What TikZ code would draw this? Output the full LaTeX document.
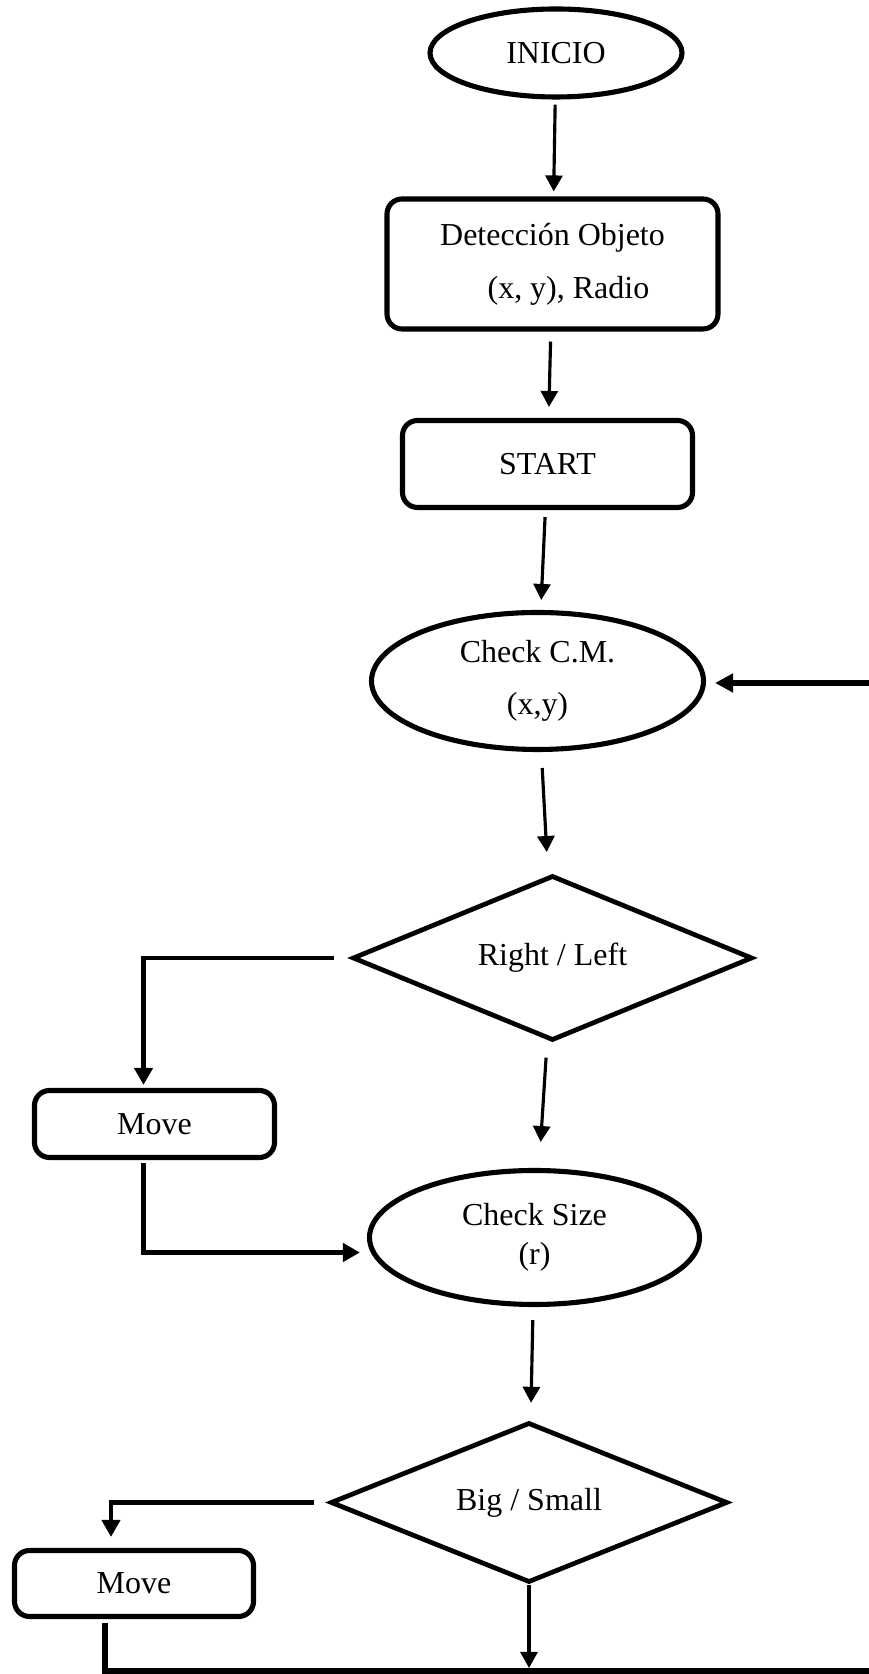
\documentclass[tikz,border=0pt]{standalone}
\usepackage{fontspec}
\setmainfont{Liberation Serif}
\usetikzlibrary{arrows.meta, shapes.geometric}

\tikzset{
  startstop/.style={ellipse, draw, line width=2.9pt, inner sep=0pt},
  proc/.style={rectangle, rounded corners=0.3cm, draw, line width=2.9pt, inner sep=0pt},
  decision/.style={diamond, aspect=2.4, draw, line width=2.7pt, inner sep=0pt},
  arrowline/.style={-{Triangle[length=0.32cm, width=0.34cm]}, line width=1.8pt},
  branchline/.style={-{Triangle[length=0.34cm, width=0.36cm]}, line width=2.8pt},
  backline/.style={-{Triangle[length=0.36cm, width=0.36cm]}, line width=3.2pt}
}

\begin{document}
\begin{tikzpicture}[font=\fontsize{18.2}{22}\selectfont]
  \useasboundingbox (0,0) rectangle (17.38,33.48);
  \clip (0,0) rectangle (17.38,33.48);

  % blocks
  \node[startstop, minimum width=5.04cm, minimum height=1.76cm] (inicio) at (11.12,32.42) {INICIO};
  \node[proc, minimum width=6.62cm, minimum height=2.60cm, align=left] (det) at (11.05,28.20) {Detección Objeto\\[8pt]\hspace*{27pt}(x, y), Radio};
  \node[proc, minimum width=5.80cm, minimum height=1.74cm] (start) at (10.95,24.20) {START};
  \node[startstop, minimum width=6.64cm, minimum height=2.74cm, align=center] (cm) at (10.75,19.86) {Check C.M.\\[8pt](x,y)};
  \node[decision, minimum width=8.0cm, minimum height=3.30cm] (rl) at (11.05,14.32) {Right / Left};
  \node[proc, minimum width=4.80cm, minimum height=1.34cm] (move1) at (3.09,11.00) {Move};
  \node[startstop, minimum width=6.60cm, minimum height=2.68cm, align=center] (cs) at (10.69,8.73) {Check Size\\(r)};
  \node[decision, minimum width=7.94cm, minimum height=3.20cm] (bs) at (10.58,3.43) {Big / Small};
  \node[proc, minimum width=4.78cm, minimum height=1.32cm] (move2) at (2.68,1.81) {Move};

  \coordinate (join) at (10.58,0.06);
  \coordinate (edge) at (17.8,0.06);

  % main arrows
  \foreach \a/\b/\s/\e in {inicio/det/0.1/0.1, det/start/0.2/0.22, start/cm/0.14/0.2,
                           cm/rl/0.32/0.46, rl/cs/0.34/0.52, cs/bs/0.26/0.36}
    \draw[arrowline, shorten <=\s cm, shorten >=\e cm] (\a) -- (\b);
  \draw[arrowline, shorten >=0.06cm] (bs.south) -- (join);

  % side branches
  \draw[branchline, shorten <=0.32cm, shorten >=0.06cm] (rl.west) -| ([xshift=-0.22cm]move1.north);
  \draw[branchline, shorten <=0.06cm, shorten >=0.14cm] ([xshift=-0.22cm]move1.south) |- ([yshift=-0.3cm]cs.west);
  \draw[branchline, shorten <=0.28cm, shorten >=0.22cm] (bs.west) -| ([xshift=-0.46cm]move2.north);

  % back to Check C.M.
  \draw[backline, shorten <=0.08cm, shorten >=0.18cm] ([xshift=-0.58cm]move2.south) |- (edge) |- ([yshift=-0.04cm]cm.east);
\end{tikzpicture}
\end{document}
